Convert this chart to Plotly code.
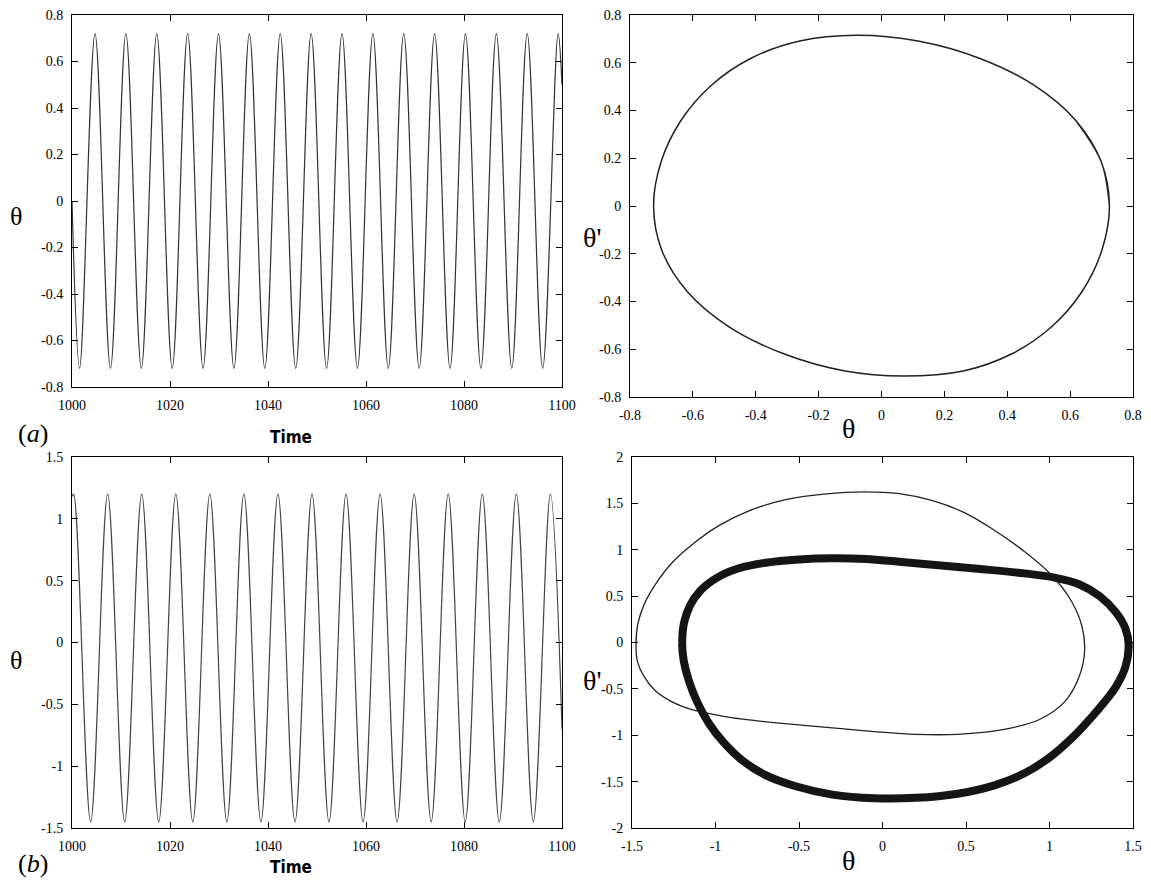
import plotly.graph_objects as go

# ---------------- data ----------------
# (a) time series: start, alternating troughs/peaks, end
ta_time = [1000.00, 1001.55, 1004.70, 1007.85, 1011.00, 1014.15, 1017.30, 1020.45,
           1023.60, 1026.75, 1029.90, 1033.05, 1036.20, 1039.35, 1042.50, 1045.65,
           1048.80, 1051.95, 1055.10, 1058.25, 1061.40, 1064.55, 1067.70, 1070.85,
           1074.00, 1077.15, 1080.30, 1083.45, 1086.60, 1089.75, 1092.90, 1096.05,
           1099.20, 1100.00]
ta_theta = [0.00,
            -0.72, 0.72, -0.72, 0.72, -0.72, 0.72, -0.72, 0.72,
            -0.72, 0.72, -0.72, 0.72, -0.72, 0.72, -0.72, 0.72,
            -0.72, 0.72, -0.72, 0.72, -0.72, 0.72, -0.72, 0.72,
            -0.72, 0.72, -0.72, 0.72, -0.72, 0.72, -0.72, 0.72,
            0.50]

# (a) phase portrait
pa_theta = [0.725, 0.699, 0.618, 0.485, 0.311, 0.116, -0.080, -0.260, -0.415,
            -0.541, -0.638, -0.701, -0.725, -0.699, -0.618, -0.485, -0.311,
            -0.116, 0.070, 0.260, 0.415, 0.541, 0.638, 0.701, 0.725, 0.699, 0.618]
pa_dtheta = [0.000, 0.185, 0.358, 0.506, 0.619, 0.691, 0.715, 0.691, 0.619,
             0.506, 0.358, 0.185, 0.000, -0.185, -0.358, -0.506, -0.619,
             -0.691, -0.712, -0.691, -0.619, -0.506, -0.358, -0.185, 0.000, 0.185, 0.358]

# (b) time series
tb_time = [1000.00, 1000.33, 1003.80, 1007.28, 1010.75, 1014.23, 1017.70, 1021.18,
           1024.65, 1028.13, 1031.60, 1035.08, 1038.55, 1042.03, 1045.50, 1048.98,
           1052.45, 1055.93, 1059.40, 1062.88, 1066.35, 1069.83, 1073.30, 1076.78,
           1080.25, 1083.73, 1087.20, 1090.68, 1094.15, 1097.63, 1100.00]
tb_theta = [1.18, 1.20,
            -1.45, 1.20, -1.45, 1.20, -1.45, 1.20, -1.45, 1.20,
            -1.45, 1.20, -1.45, 1.20, -1.45, 1.20, -1.45, 1.20,
            -1.45, 1.20, -1.45, 1.20, -1.45, 1.20, -1.45, 1.20,
            -1.45, 1.20, -1.45, 1.20,
            -0.70]

# (b) phase portrait, thin orbit
pb1_theta = [-1.476, -1.465, -1.425, -1.355, -1.260, -1.130, -0.980, -0.800, -0.580,
             -0.350, -0.100, 0.100, 0.300, 0.490, 0.670, 0.850, 1.010, 1.130, 1.195,
             1.210, 1.175, 1.090, 0.940, 0.720, 0.450, 0.200, -0.050, -0.300, -0.550,
             -0.800, -0.970, -1.130, -1.260, -1.360, -1.430, -1.468, -1.476, -1.465,
             -1.425]
pb1_dtheta = [-0.030, 0.200, 0.420, 0.640, 0.860, 1.070, 1.260, 1.420, 1.540,
              1.600, 1.625, 1.605, 1.530, 1.400, 1.210, 0.980, 0.730, 0.450, 0.170,
              -0.100, -0.380, -0.640, -0.830, -0.940, -0.990, -0.990, -0.960, -0.920, -0.880,
              -0.835, -0.790, -0.730, -0.640, -0.520, -0.360, -0.200, -0.030, 0.200,
              0.420]

# (b) phase portrait, thick orbit
pb2_theta = [-1.200, -1.190, -1.155, -1.090, -0.990, -0.860, -0.700, -0.500, -0.300,
             -0.100, 0.100, 0.350, 0.600, 0.850, 1.030, 1.180, 1.300, 1.400, 1.455,
             1.474, 1.455, 1.400, 1.330, 1.250, 1.140, 1.000, 0.850, 0.670, 0.450,
             0.200, -0.050, -0.300, -0.520, -0.700, -0.840, -0.950, -1.040, -1.110,
             -1.160, -1.190, -1.200, -1.190, -1.155]
pb2_dtheta = [0.000, 0.200, 0.390, 0.560, 0.700, 0.800, 0.860, 0.895, 0.908,
              0.900, 0.870, 0.830, 0.790, 0.745, 0.700, 0.625, 0.500, 0.320, 0.150,
              -0.030, -0.260, -0.470, -0.640, -0.810, -1.020, -1.240, -1.410, -1.540, -1.630,
              -1.675, -1.680, -1.640, -1.550, -1.430, -1.270, -1.080, -0.870, -0.640,
              -0.410, -0.200, 0.000, 0.200, 0.390]

# tick labels
ta_xticks = [1000, 1020, 1040, 1060, 1080, 1100]
ta_yticks = [-0.8, -0.6, -0.4, -0.2, 0, 0.2, 0.4, 0.6, 0.8]
ta_ylabels = ["-0.8", "-0.6", "-0.4", "-0.2", "0", "0.2", "0.4", "0.6", "0.8"]
pa_ticks = [-0.8, -0.6, -0.4, -0.2, 0, 0.2, 0.4, 0.6, 0.8]
pa_labels = ["-0.8", "-0.6", "-0.4", "-0.2", "0", "0.2", "0.4", "0.6", "0.8"]
tb_yticks = [-1.5, -1, -0.5, 0, 0.5, 1, 1.5]
tb_ylabels = ["-1.5", "-1", "-0.5", "0", "0.5", "1", "1.5"]
pb_xticks = [-1.5, -1, -0.5, 0, 0.5, 1, 1.5]
pb_xlabels = ["-1.5", "-1", "-0.5", "0", "0.5", "1", "1.5"]
pb_yticks = [-2, -1.5, -1, -0.5, 0, 0.5, 1, 1.5, 2]
pb_ylabels = ["-2", "-1.5", "-1", "-0.5", "0", "0.5", "1", "1.5", "2"]

# ---------------- figure ----------------
# the page body has an 8px margin, so the figure is drawn 8px in from the
# window's top-left corner; positions below are window pixels.
OFF = 8
W, H = 1151 - 2 * OFF, 886 - 2 * OFF


def dx(p0, p1):
    return [(p0 - OFF) / W, (p1 - OFF) / W]


def dy(top, bottom):
    return [1 - (bottom - OFF) / H, 1 - (top - OFF) / H]


fig = go.Figure()
fig.add_trace(go.Scatter(x=ta_time, y=ta_theta, mode="lines", xaxis="x", yaxis="y",
                         line=dict(color="#333333", width=1.2, shape="spline")))
fig.add_trace(go.Scatter(x=pa_theta, y=pa_dtheta, mode="lines", xaxis="x2", yaxis="y2",
                         line=dict(color="#222222", width=1.5, shape="spline")))
fig.add_trace(go.Scatter(x=tb_time, y=tb_theta, mode="lines", xaxis="x3", yaxis="y3",
                         line=dict(color="#444444", width=1.2, shape="spline")))
fig.add_trace(go.Scatter(x=pb1_theta, y=pb1_dtheta, mode="lines", xaxis="x4", yaxis="y4",
                         line=dict(color="#222222", width=1.3, shape="spline")))
fig.add_trace(go.Scatter(x=pb2_theta, y=pb2_dtheta, mode="lines", xaxis="x4", yaxis="y4",
                         line=dict(color="#151515", width=8, shape="spline")))

serif = "Liberation Serif, Times New Roman, serif"
tickfont = dict(family=serif, size=14, color="black")
common = dict(showline=True, mirror="ticks", linecolor="black", linewidth=1,
              ticks="inside", ticklen=6, tickcolor="black", showgrid=False,
              zeroline=False, tickfont=tickfont, automargin=False, fixedrange=True,
              ticklabelstandoff=5, ticklabeloverflow="allow")

fig.update_layout(
    width=W, height=H, autosize=False,
    margin=dict(l=0, r=0, t=0, b=0),
    paper_bgcolor="white", plot_bgcolor="white",
    showlegend=False,
    xaxis=dict(domain=dx(72, 562), range=[1000, 1100], anchor="y",
               tickvals=ta_xticks, **common),
    yaxis=dict(domain=dy(15, 387), range=[-0.8, 0.8], anchor="x",
               tickvals=ta_yticks, ticktext=ta_ylabels, **common),
    xaxis2=dict(domain=dx(630, 1133), range=[-0.8, 0.8], anchor="y2",
                tickvals=pa_ticks, ticktext=pa_labels, **common),
    yaxis2=dict(domain=dy(15, 397), range=[-0.8, 0.8], anchor="x2",
                tickvals=pa_ticks, ticktext=pa_labels, **common),
    xaxis3=dict(domain=dx(72, 562), range=[1000, 1100], anchor="y3",
                tickvals=ta_xticks, **common),
    yaxis3=dict(domain=dy(457, 828), range=[-1.5, 1.5], anchor="x3",
                tickvals=tb_yticks, ticktext=tb_ylabels, **common),
    xaxis4=dict(domain=dx(632, 1133), range=[-1.5, 1.5], anchor="y4",
                tickvals=pb_xticks, ticktext=pb_xlabels, **common),
    yaxis4=dict(domain=dy(457, 828), range=[-2, 2], anchor="x4",
                tickvals=pb_yticks, ticktext=pb_ylabels, **common),
)

narrow = "DejaVu Sans Condensed, Liberation Sans Narrow, Liberation Sans, sans-serif"


def label(text, px, py, size, family=serif):
    fig.add_annotation(x=(px - OFF) / W, y=1 - (py - OFF) / H, xref="paper", yref="paper",
                       text=text, showarrow=False, xanchor="center", yanchor="middle",
                       font=dict(family=family, size=size, color="black"))


label("θ", 16, 217, 26)
label("θ", 16, 660, 26)
label("<b>Time</b>", 291, 437, 17, narrow)
label("<b>Time</b>", 291, 867, 17, narrow)
label("(<i>a</i>)", 33, 433, 26)
label("(<i>b</i>)", 33, 863, 26)
label("θ", 848, 428, 28)
label("θ", 848, 860, 28)
label("θ'", 592, 237, 28)
label("θ'", 592, 680, 28)

fig.write_html("out.html",
               post_script="document.documentElement.style.overflow='hidden';")
